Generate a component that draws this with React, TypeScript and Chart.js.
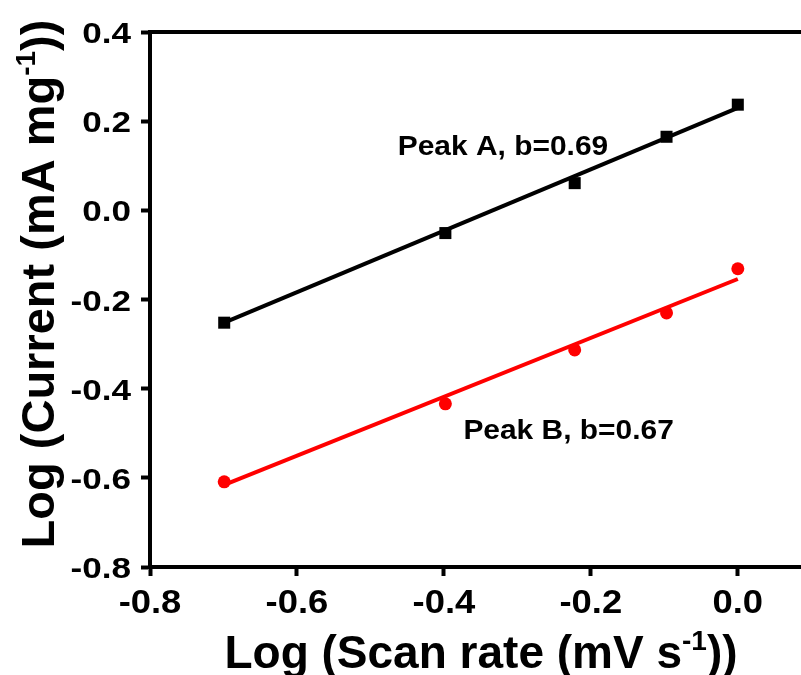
import React, { useEffect, useRef } from "react";
import { Chart, registerables } from "chart.js";

Chart.register(...registerables);

// ---- data ----
const xTickValues = [-0.8, -0.6, -0.4, -0.2, 0.0];
const yTickValues = [-0.8, -0.6, -0.4, -0.2, 0.0, 0.2, 0.4];
const logScanRate = [-0.699, -0.398, -0.222, -0.097, 0.0];
const peakA = [-0.252, -0.051, 0.061, 0.165, 0.237];
const peakB = [-0.609, -0.434, -0.313, -0.23, -0.131];
const fitX = [-0.699, 0.0];
const fitA = [-0.252, 0.23];
const fitB = [-0.616, -0.154];
const labelAText = "Peak A, b=0.69";
const labelBText = "Peak B, b=0.67";
const labelAPos = [-0.4628, 0.125];
const labelBPos = [-0.3735, -0.513];

const FONT = '"Liberation Sans", Arial, sans-serif';

type Part = { t: string; sup?: boolean };

function fmt(v: number) {
  const s = v.toFixed(1);
  return s === "-0.0" ? "0.0" : s;
}

function drawText(
  ctx: CanvasRenderingContext2D,
  text: string,
  x: number,
  y: number,
  size: number,
  sx: number,
  align: "left" | "center" | "right"
) {
  ctx.save();
  ctx.font = `bold ${size}px ${FONT}`;
  const w = ctx.measureText(text).width * sx;
  let left = x;
  if (align === "center") left = x - w / 2;
  else if (align === "right") left = x - w;
  ctx.translate(left, y);
  ctx.scale(sx, 1);
  ctx.textAlign = "left";
  ctx.textBaseline = "alphabetic";
  ctx.fillText(text, 0, 0);
  ctx.restore();
}

function richWidth(ctx: CanvasRenderingContext2D, parts: Part[], size: number) {
  let w = 0;
  for (const p of parts) {
    ctx.font = `bold ${p.sup ? Math.round(size * 0.6) : size}px ${FONT}`;
    w += ctx.measureText(p.t).width;
  }
  return w;
}

function drawRich(ctx: CanvasRenderingContext2D, parts: Part[], size: number, x: number, y: number) {
  let cx = x;
  for (const p of parts) {
    const s = p.sup ? Math.round(size * 0.6) : size;
    ctx.font = `bold ${s}px ${FONT}`;
    ctx.fillText(p.t, cx, p.sup ? y - size * 0.4 : y);
    cx += ctx.measureText(p.t).width;
  }
}

const xTitle: Part[] = [{ t: "Log (Scan rate (mV s" }, { t: "-1", sup: true }, { t: "))" }];
const yTitle: Part[] = [{ t: "Log (Current (mA mg" }, { t: "-1", sup: true }, { t: "))" }];

const decorPlugin = {
  id: "decor",
  afterDraw(chart: any) {
    const ctx: CanvasRenderingContext2D = chart.ctx;
    const { chartArea, scales } = chart;
    ctx.save();
    // top frame line
    ctx.strokeStyle = "#000";
    ctx.lineWidth = 4;
    ctx.beginPath();
    ctx.moveTo(chartArea.left - 2, chartArea.top);
    ctx.lineTo(chartArea.right, chartArea.top);
    ctx.stroke();

    ctx.fillStyle = "#000";
    // tick labels
    for (const v of yTickValues) {
      const py = scales.y.getPixelForValue(v);
      drawText(ctx, fmt(v), 131, py + 11, 30, 1.17, "right");
    }
    for (const v of xTickValues) {
      const px = scales.x.getPixelForValue(v);
      drawText(ctx, fmt(v), px, 613, 32.5, 1.12, "center");
    }

    // annotations
    drawText(ctx, labelAText, scales.x.getPixelForValue(labelAPos[0]), scales.y.getPixelForValue(labelAPos[1]), 28.5, 1.05, "left");
    drawText(ctx, labelBText, scales.x.getPixelForValue(labelBPos[0]), scales.y.getPixelForValue(labelBPos[1]), 28.5, 1.05, "left");

    // x title
    ctx.textAlign = "left";
    ctx.textBaseline = "alphabetic";
    const size = 46;
    const wx = richWidth(ctx, xTitle, size);
    drawRich(ctx, xTitle, size, 481 - wx / 2, 668);

    // y title
    const ysize = 47;
    const wy = richWidth(ctx, yTitle, ysize);
    ctx.translate(54, 284);
    ctx.rotate(-Math.PI / 2);
    drawRich(ctx, yTitle, ysize, -wy / 2, 0);
    ctx.restore();
  },
};

export default function App() {
  const ref = useRef<HTMLCanvasElement>(null);
  useEffect(() => {
    if (!ref.current) return;
    const chart = new Chart(ref.current, {
      type: "scatter",
      data: {
        datasets: [
          {
            label: "Peak A",
            data: logScanRate.map((x, i) => ({ x, y: peakA[i] })),
            pointStyle: "rect",
            pointRadius: 8.5,
            backgroundColor: "#000",
            borderColor: "#000",
            pointBorderWidth: 0,
            showLine: false,
            order: 0,
          },
          {
            label: "Peak B",
            data: logScanRate.map((x, i) => ({ x, y: peakB[i] })),
            pointStyle: "circle",
            pointRadius: 6.5,
            backgroundColor: "#ff0000",
            borderColor: "#ff0000",
            pointBorderWidth: 0,
            showLine: false,
            order: 0,
          },
          {
            label: "Fit A",
            data: fitX.map((x, i) => ({ x, y: fitA[i] })),
            showLine: true,
            borderColor: "#000",
            borderWidth: 4,
            pointRadius: 0,
            order: 1,
          },
          {
            label: "Fit B",
            data: fitX.map((x, i) => ({ x, y: fitB[i] })),
            showLine: true,
            borderColor: "#ff0000",
            borderWidth: 4,
            pointRadius: 0,
            order: 1,
          },
        ],
      },
      options: {
        animation: false,
        responsive: false,
        maintainAspectRatio: false,
        devicePixelRatio: 1,
        layout: { autoPadding: false, padding: { top: 32, right: 0, bottom: 0, left: 0 } },
        plugins: { legend: { display: false }, tooltip: { enabled: false } },
        scales: {
          x: {
            type: "linear",
            min: -0.8,
            max: 0.086,
            afterBuildTicks: (s: any) => {
              s.ticks = xTickValues.map((v) => ({ value: v }));
            },
            afterFit: (s: any) => {
              s.height = 108;
              s.paddingRight = 0;
              s.paddingLeft = 0;
            },
            border: { display: true, color: "#000", width: 4 },
            grid: { display: true, drawOnChartArea: false, drawTicks: true, tickLength: 9, tickWidth: 4, tickColor: "#000" },
            ticks: { display: false, autoSkip: false, maxRotation: 0 },
          },
          y: {
            type: "linear",
            min: -0.8,
            max: 0.4,
            afterBuildTicks: (s: any) => {
              s.ticks = yTickValues.map((v) => ({ value: v }));
            },
            afterFit: (s: any) => {
              s.width = 150;
              s.paddingTop = 0;
              s.paddingBottom = 0;
            },
            border: { display: true, color: "#000", width: 4 },
            grid: { display: true, drawOnChartArea: false, drawTicks: true, tickLength: 9, tickWidth: 4, tickColor: "#000" },
            ticks: { display: false, autoSkip: false },
          },
        },
      },
      plugins: [decorPlugin],
    });
    return () => chart.destroy();
  }, []);
  return (
    <div style={{ position: "absolute", left: 0, top: 0, width: 801, height: 675, overflow: "hidden", background: "#fff" }}>
      <canvas ref={ref} width={801} height={675} style={{ display: "block", width: 801, height: 675 }} />
    </div>
  );
}
